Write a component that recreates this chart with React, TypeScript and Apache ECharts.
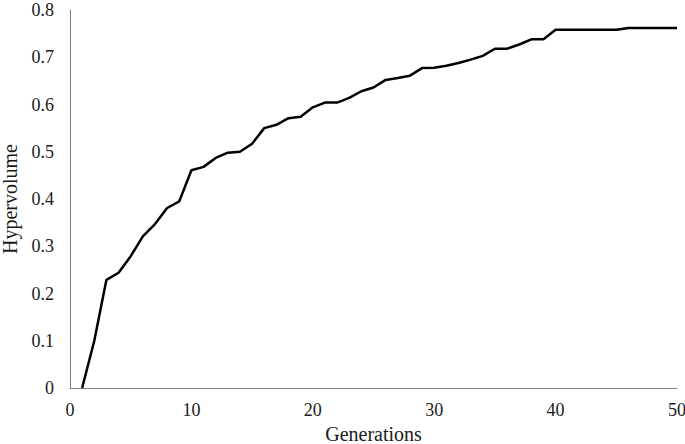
import React, { useEffect, useRef } from "react";
import * as echarts from "echarts";

const generations: number[] = [
  1, 2, 3, 4, 5, 6, 7, 8, 9, 10,
  11, 12, 13, 14, 15, 16, 17, 18, 19, 20,
  21, 22, 23, 24, 25, 26, 27, 28, 29, 30,
  31, 32, 33, 34, 35, 36, 37, 38, 39, 40,
  41, 42, 43, 44, 45, 46, 47, 48, 49, 50,
];

const hypervolume: number[] = [
  0, 0.1, 0.229, 0.244, 0.279, 0.321, 0.347, 0.381, 0.395, 0.461,
  0.468, 0.487, 0.498, 0.5, 0.517, 0.55, 0.557, 0.571, 0.574, 0.594,
  0.604, 0.604, 0.614, 0.628, 0.636, 0.652, 0.656, 0.661, 0.677, 0.678,
  0.682, 0.688, 0.695, 0.703, 0.718, 0.718, 0.727, 0.738, 0.738, 0.758,
  0.758, 0.758, 0.758, 0.758, 0.758, 0.762, 0.762, 0.762, 0.762, 0.762,
];

const xName = "Generations";
const yName = "Hypervolume";

export default function App() {
  const ref = useRef<HTMLDivElement>(null);
  useEffect(() => {
    if (!ref.current) return;
    const chart = echarts.init(ref.current, undefined, { renderer: "svg" });
    const font = "'Liberation Serif', 'Times New Roman', serif";
    chart.setOption({
      animation: false,
      backgroundColor: "#ffffff",
      grid: {
        left: 70,
        right: 8,
        top: 10,
        bottom: 56,
        containLabel: false,
        outerBoundsMode: "none",
      },
      xAxis: {
        type: "value",
        min: 0,
        max: 50,
        interval: 10,
        name: xName,
        nameLocation: "middle",
        nameGap: 37,
        nameTextStyle: { fontFamily: font, fontSize: 20, lineHeight: 17, color: "#1a1a1a" },
        axisLine: { show: true, lineStyle: { color: "#808080", width: 1 } },
        axisTick: { show: false },
        splitLine: { show: false },
        axisLabel: { fontFamily: font, fontSize: 18, color: "#1a1a1a", margin: 13 },
      },
      yAxis: {
        type: "value",
        min: 0,
        max: 0.8,
        interval: 0.1,
        name: yName,
        nameLocation: "middle",
        nameGap: 50,
        nameTextStyle: { fontFamily: font, fontSize: 20, color: "#1a1a1a" },
        axisLine: { show: true, lineStyle: { color: "#808080", width: 1 } },
        axisTick: { show: false },
        splitLine: { show: false },
        axisLabel: {
          fontFamily: font,
          fontSize: 18,
          lineHeight: 15,
          color: "#1a1a1a",
          margin: 16,
          formatter: (v: number) => String(Math.round(v * 10) / 10),
        },
      },
      series: [
        {
          type: "line",
          data: generations.map((g, i) => [g, hypervolume[i]]),
          showSymbol: false,
          symbol: "none",
          lineStyle: { color: "#000000", width: 2.5 },
        },
      ],
    });
    return () => chart.dispose();
  }, []);
  return (
    <div
      ref={ref}
      style={{ position: "fixed", left: 0, top: 0, width: 685, height: 444 }}
    />
  );
}
